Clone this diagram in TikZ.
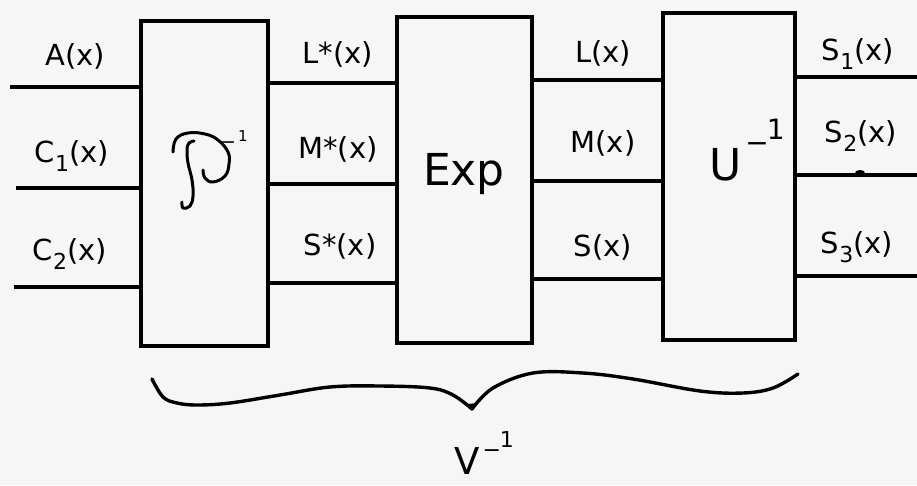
\documentclass[tikz,border=0pt]{standalone}
\usepackage{fontspec}
\setmainfont{DejaVu Sans}
\newcommand\lowsub[1]{\raisebox{-9pt}{\fontsize{22}{22}\selectfont #1}}
\definecolor{paper}{RGB}{246,246,246}
\begin{document}
\begin{tikzpicture}[x=1pt,y=-1pt,
  blk/.style={draw, line width=3.8pt, inner sep=0pt},
  wire/.style={line width=3.4pt},
  lab/.style={anchor=base, inner sep=0pt, font=\fontsize{29}{29}\selectfont},
  big/.style={anchor=base, inner sep=0pt, font=\fontsize{44}{44}\selectfont},
  hand/.style={line width=3pt, line cap=round, line join=round}]
\fill[paper] (0,0) rectangle (917,485);
\useasboundingbox (0,0) rectangle (917,485);
% boxes
\node[blk, minimum width=127pt, minimum height=325pt] (b1) at (204.5,183.5) {};
\node[blk, minimum width=135pt, minimum height=326pt] (b2) at (464.5,180) {};
\node[blk, minimum width=132pt, minimum height=327pt] (b3) at (729,176.5) {};
% free ends
\coordinate (i1) at (10,87);
\coordinate (i2) at (16,188);
\coordinate (i3) at (14,287);
\coordinate (o1) at (917,77);
\coordinate (o2) at (917,175);
\coordinate (o3) at (917,276);
\foreach \k in {1,2,3} {\draw[wire] (i\k) -- (b1.west |- i\k);}
\foreach \y [count=\k] in {83,184,283} {\coordinate (p\k) at (0,\y); \draw[wire] (b1.east |- p\k) -- (b2.west |- p\k);}
\foreach \y [count=\k] in {80,181,279} {\coordinate (q\k) at (0,\y); \draw[wire] (b2.east |- q\k) -- (b3.west |- q\k);}
\foreach \k in {1,2,3} {\draw[wire] (b3.east |- o\k) -- (o\k);}
\fill (860,173) ellipse (5pt and 3pt);
% labels
\node[lab] (la) at (75,65) {A(x)};
\node[lab] (lc1) at (72,162) {C\lowsub{1}(x)};
\node[lab] (lc2) at (70,260) {C\lowsub{2}(x)};
\node[lab] (lls) at (338,63) {L*(x)};
\node[lab] (lms) at (338,158) {M*(x)};
\node[lab] (lss) at (340,255) {S*(x)};
\node[lab] (ll) at (603,62) {L(x)};
\node[lab] (lm) at (603,152) {M(x)};
\node[lab] (ls) at (603,256) {S(x)};
\node[lab] (ls1) at (858,60) {S\lowsub{1}(x)};
\node[lab] (ls2) at (861,142) {S\lowsub{2}(x)};
\node[lab] (ls3) at (857,253) {S\lowsub{3}(x)};
% script P inverse
\draw[hand] plot[smooth, tension=0.7] coordinates {(173,152) (176,139) (188,133) (205,134) (218,140) (228,152) (229,164) (225,176) (213,182) (205,178) (203,170)};
\draw[hand] plot[smooth, tension=0.7] coordinates {(194,141) (189,143) (187,150) (188,163) (192,180) (193,196) (190,206) (183,208) (182,202)};
\node[anchor=base west, inner sep=0pt, font=\fontsize{19}{19}\selectfont] (pinv) at (220,148) {−\hspace{2pt}\raisebox{7pt}{\fontsize{15}{15}\selectfont 1}};
% Exp, U^-1
\node[big] (exp) at (464,185) {Exp};
\node[anchor=base west, inner sep=0pt, font=\fontsize{44}{44}\selectfont] (uinv) at (709,180) {U\hspace{4pt}\raisebox{28pt}{\fontsize{28}{28}\selectfont −}\hspace{-2pt}\raisebox{41pt}{\fontsize{28}{28}\selectfont 1}};
% brace
\draw[line width=3.4pt, line cap=round] plot[smooth, tension=0.6] coordinates {(152,379) (163,397) (177,403) (197,405) (230,403) (280,395) (330,387) (380,386) (430,388) (453,395) (472,409)};
\draw[line width=3.4pt, line cap=round] plot[smooth, tension=0.6] coordinates {(472,409) (493,388) (533,373) (583,373) (633,379) (700,391) (743,393) (773,388) (798,374)};
\fill (468,404) -- (472,411) -- (477,403) -- cycle;
\node[anchor=base west, inner sep=0pt, font=\fontsize{37}{37}\selectfont] (vinv) at (454,474) {V\hspace{3pt}\raisebox{17pt}{\fontsize{22}{22}\selectfont −}\hspace{-1pt}\raisebox{27pt}{\fontsize{22}{22}\selectfont 1}};
\end{tikzpicture}
\end{document}
